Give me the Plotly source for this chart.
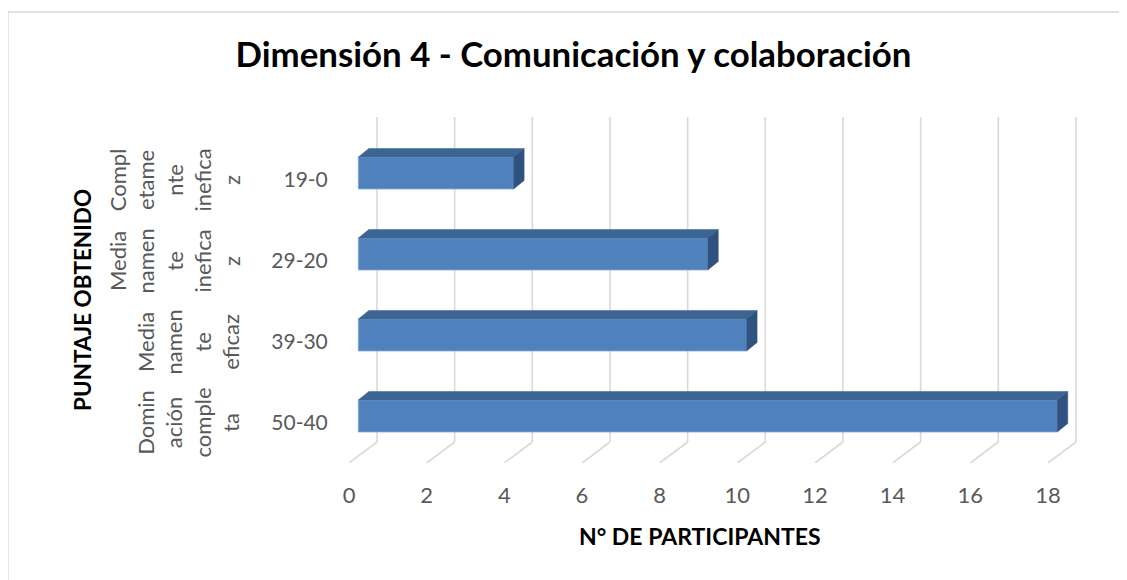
import plotly.graph_objects as go

# ---------------- data ----------------
categories = ["50-40", "39-30", "29-20", "19-0"]          # bottom -> top
group_labels = [
    "Domin<br>ación<br>comple<br>ta",
    "Media<br>namen<br>te<br>eficaz",
    "Media<br>namen<br>te<br>inefica<br>z",
    "Compl<br>etame<br>nte<br>inefica<br>z",
]
participants = [18, 10, 9, 4]
x_ticks = [0, 2, 4, 6, 8, 10, 12, 14, 16, 18]

title_text = "Dimensión 4 - Comunicación y colaboración"
x_title = "N° DE PARTICIPANTES"
y_title = "PUNTAJE OBTENIDO"

# ---------------- layout geometry (page pixels) ----------------
PAGE_W, PAGE_H = 1127, 580
BODY = 8                      # default page margin around the figure div
W, H = PAGE_W - BODY, PAGE_H - BODY
L, R, T, B = 349, 1090, 100, 463     # plot area in page pixels
PX_X = 38.83          # px per participant
PX_Y = 81.0           # px per category
Y0_PX = 423.0         # page pixel of first category (front plane)

def xd(px_offset):
    return px_offset / PX_X

def yd(px_offset):
    return px_offset / PX_Y

x_range = [0, (R - L) / PX_X]
y_range = [(Y0_PX - B) / PX_Y, (Y0_PX - T) / PX_Y]

def paper_x(px):
    return (px - L) / (R - L)

def paper_y(py):
    return (B - py) / (B - T)

ypos = list(range(len(categories)))

# 3D depth parameters
WALL_DX, WALL_DY = xd(28), yd(21)     # floor front -> back wall
BAR_BASE = xd(9.3)                    # bar front plane offset
BAR_DX, BAR_DY = xd(10.5), yd(8.5)    # bar depth
BAR_W = yd(32)
BAR_OFF = yd(-9)                      # bar bottom relative to category

FRONT = "#4F81BD"
TOP = "#3D6594"
SIDE = "#2F5280"
GRID = "#D9D9D9"
TXT = "#595959"
FONT = "Lato"

fig = go.Figure()

# gridlines (as shapes below the bars): floor diagonals + back-wall verticals
shapes = []
y_floor_front = y_range[0]
y_floor_back = y_range[0] + WALL_DY
y_wall_top = (Y0_PX - 117) / PX_Y
for t in x_ticks:
    shapes.append(dict(type="line", xref="x", yref="y", layer="below",
                       x0=t, y0=y_floor_front, x1=t + WALL_DX, y1=y_floor_back,
                       line=dict(color=GRID, width=1.6)))
    shapes.append(dict(type="line", xref="x", yref="y", layer="below",
                       x0=t + WALL_DX, y0=y_floor_back, x1=t + WALL_DX, y1=y_wall_top,
                       line=dict(color=GRID, width=1.6)))

# chart border
shapes.append(dict(type="rect", xref="paper", yref="paper",
                   x0=paper_x(8), x1=paper_x(PAGE_W + 20),
                   y0=paper_y(PAGE_H + 20), y1=paper_y(12),
                   line=dict(color=GRID, width=1.3), fillcolor="rgba(0,0,0,0)",
                   layer="below"))

# front faces
fig.add_trace(go.Bar(x=participants, y=ypos, orientation="h",
                     base=BAR_BASE, width=BAR_W, offset=BAR_OFF,
                     marker=dict(color=FRONT, line=dict(color="#8AAAD4", width=0.8)),
                     showlegend=False, cliponaxis=False))

# top and side faces
for v, p in zip(participants, ypos):
    x0 = BAR_BASE
    x1 = BAR_BASE + v
    yb = p + BAR_OFF
    yt = yb + BAR_W
    fig.add_trace(go.Scatter(
        x=[x0, x1, x1 + BAR_DX, x0 + BAR_DX, x0],
        y=[yt, yt, yt + BAR_DY, yt + BAR_DY, yt],
        fill="toself", fillcolor=TOP, mode="lines",
        line=dict(color=TOP, width=0.5), hoverinfo="skip",
        showlegend=False, cliponaxis=False))
    fig.add_trace(go.Scatter(
        x=[x1, x1 + BAR_DX, x1 + BAR_DX, x1, x1],
        y=[yt, yt + BAR_DY, yb + BAR_DY, yb, yt],
        fill="toself", fillcolor=SIDE, mode="lines",
        line=dict(color=SIDE, width=0.5), hoverinfo="skip",
        showlegend=False, cliponaxis=False))

annotations = []
for lbl, p in zip(group_labels, ypos):
    annotations.append(dict(
        text=lbl, xref="paper", yref="y", x=paper_x(246), y=p,
        xanchor="right", yanchor="middle", textangle=-90, align="center",
        showarrow=False, font=dict(family=FONT, size=22, color=TXT)))

annotations.append(dict(
    text="<b>" + x_title + "</b>", xref="paper", yref="paper",
    x=paper_x(700), y=paper_y(536), xanchor="center", yanchor="middle",
    showarrow=False, font=dict(family=FONT, size=23, color="#000000")))
annotations.append(dict(
    text="<b>" + y_title + "</b>", xref="paper", yref="paper",
    x=paper_x(82), y=paper_y(300), xanchor="center", yanchor="middle",
    textangle=-90, showarrow=False,
    font=dict(family=FONT, size=22.5, color="#000000")))

fig.update_layout(
    width=W, height=H,
    margin=dict(l=L - BODY, r=W - (R - BODY), t=T - BODY, b=H - (B - BODY), pad=0),
    paper_bgcolor="white", plot_bgcolor="white",
    title=dict(text="<b>" + title_text + "</b>",
               x=(573.5 - BODY) / W, y=1 - (55 - BODY) / H,
               xanchor="center", yanchor="middle",
               font=dict(family=FONT, size=34.8, color="#000000")),
    xaxis=dict(range=x_range, tickvals=x_ticks, showgrid=False, zeroline=False,
               showline=False, ticks="outside", ticklen=13,
               tickcolor="rgba(0,0,0,0)",
               tickfont=dict(family=FONT, size=22, color=TXT)),
    yaxis=dict(range=y_range, tickvals=ypos, ticktext=categories,
               showgrid=False, zeroline=False, showline=False,
               ticks="outside", ticklen=16, tickcolor="rgba(0,0,0,0)",
               tickfont=dict(family=FONT, size=21, color=TXT)),
    annotations=annotations,
    shapes=shapes,
)

fig.write_html("out.html")
